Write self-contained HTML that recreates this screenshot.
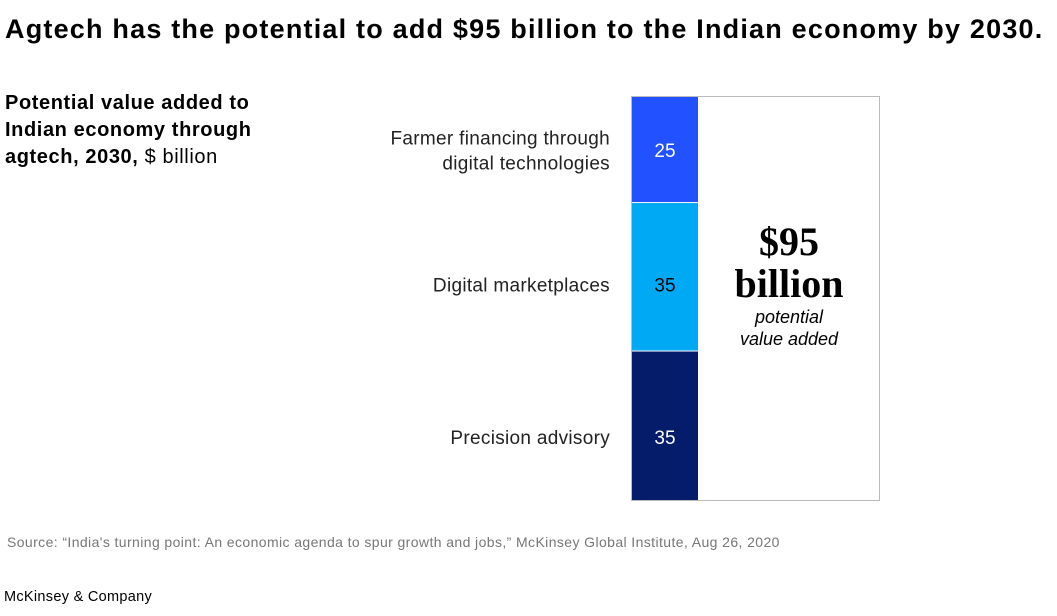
<!DOCTYPE html>
<html><head><meta charset="utf-8"><style>
body{margin:0;width:1057px;height:616px;background:#fff;font-family:"Liberation Sans",sans-serif;position:relative;overflow:hidden}
.t{position:absolute;white-space:nowrap}
</style></head><body>
<div class="t" style="left:5px;top:14px;font-size:27px;font-weight:bold;color:#000;letter-spacing:1.2px">Agtech has the potential to add $95 billion to the Indian economy by 2030.</div>
<div class="t" style="left:5px;top:90px;font-size:20px;line-height:27px;color:#000;letter-spacing:0.6px"><b>Potential value added to<br>Indian economy through<br>agtech, 2030,</b> $ billion</div>
<svg id="chart" width="1057" height="616" style="position:absolute;left:0;top:0"></svg>
<div class="t" style="left:7px;top:534px;font-size:14px;color:#777;letter-spacing:0.4px">Source: “India's turning point: An economic agenda to spur growth and jobs,” McKinsey Global Institute, Aug 26, 2020</div>
<div class="t" style="left:4px;top:589px;font-size:14.5px;color:#000;letter-spacing:0.3px">McKinsey &amp; Company</div>
<script>
const categories=[["Farmer financing through","digital technologies"],["Digital marketplaces"],["Precision advisory"]];
const values=[25,35,35];
const colors=["#2251ff","#00a9f4","#051c6b"];
const labelColors=["#fff","#000","#fff"];
const labelShift=[0,7,11];
const svg=document.getElementById('chart');
const NS='http://www.w3.org/2000/svg';
const top0=97,bottom0=500,x0=632,bw=66;
const total=values.reduce((a,b)=>a+b,0);
const y=v=>top0+(bottom0-top0)*v/total;
function mk(t,a){const e=document.createElementNS(NS,t);for(const k in a)e.setAttribute(k,a[k]);svg.appendChild(e);return e;}
const box=mk('rect',{x:631.5,y:96.5,width:248,height:404,fill:'none',stroke:'#bbb','stroke-width':1});


let cum=0;
values.forEach((v,i)=>{
 const y1=y(cum),y2=y(cum+v);cum+=v;
 const r=mk('rect',{x:x0,y:y1,width:bw,height:y2-y1-(i<values.length-1?1:0),fill:colors[i]});
 
 
 const mid=(y1+y2)/2+labelShift[i];
 const t=mk('text',{x:x0+bw/2,y:mid+7,'text-anchor':'middle','font-size':19,fill:labelColors[i],'font-family':'Liberation Sans'});
 t.textContent=v;
 
 
 const lines=categories[i];
 lines.forEach((ln,j)=>{
  const c=mk('text',{x:610,y:mid+7+(j-(lines.length-1)/2)*25,'text-anchor':'end','font-size':19,fill:'#222','font-family':'Liberation Sans','letter-spacing':0.3});
  c.textContent=ln;
  
  
 });
});
const cx=789;
[["$95",255,40,'bold','normal','Liberation Serif'],["billion",297,40,'bold','normal','Liberation Serif'],["potential",323,18,'normal','italic','Liberation Sans'],["value added",345,18,'normal','italic','Liberation Sans']].forEach((d,i)=>{
 const t=mk('text',{x:cx,y:d[1],'text-anchor':'middle','font-size':d[2],'font-weight':d[3],'font-style':d[4],'font-family':d[5],fill:'#000'});
 t.textContent=d[0];
 
 
});
</script>
</body></html>
